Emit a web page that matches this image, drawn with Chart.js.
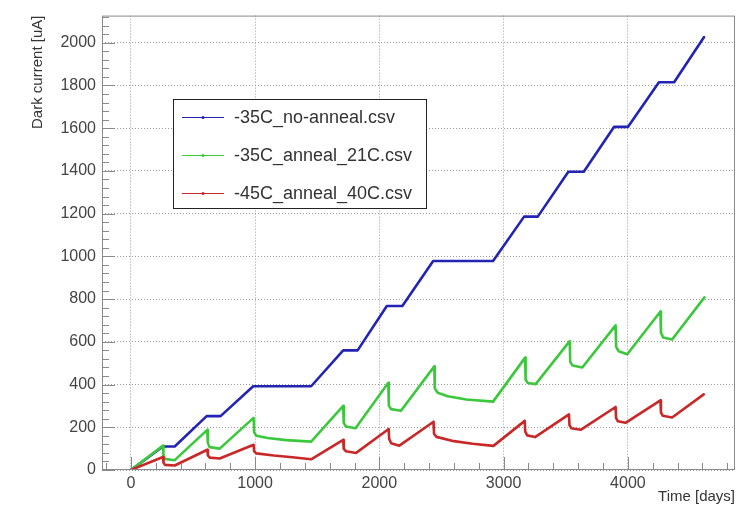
<!DOCTYPE html>
<html>
<head>
<meta charset="utf-8">
<script src="https://cdn.jsdelivr.net/npm/chart.js@4.4.1/dist/chart.umd.min.js"></script>
<style>
html, body { margin: 0; padding: 0; background: #fff; }
</style>
</head>
<body>
<canvas id="chart" width="752" height="510"></canvas>
<script>
// -35C, no annealing
const noAnnealDays    = [0, 259, 353, 610, 722, 985, 1451, 1709, 1825, 2060, 2185, 2433, 2915, 3165, 3275, 3521, 3645, 3888, 4000, 4250, 4372, 4612];
const noAnnealCurrent = [0, 110, 110, 252, 252, 392,  392,  560,  560,  768,  768,  978,  978, 1186, 1186, 1396, 1396, 1606, 1606, 1815, 1815, 2026];

// -35C, annealed at 21C
const anneal21Days    = [0, 259, 262, 275, 353, 615, 619, 633, 715, 988, 992, 1010, 1100, 1250, 1451, 1709, 1713, 1730, 1808, 2072, 2076, 2094, 2174, 2442, 2446, 2470, 2550, 2700, 2915, 3173, 3177, 3195, 3258, 3532, 3536, 3555, 3633, 3901, 3905, 3925, 3995, 4262, 4266, 4285, 4356, 4616];
const anneal21Current = [0, 114,  70,  52,  46, 188, 128, 107, 100, 244, 178,  160,  150,  140,  133,  300,  222,  204,  195,  408,  302,  285,  277,  485,  382,  362,  345,  330,  320,  526,  422,  407,  402,  603,  506,  489,  480,  677,  577,  556,  542,  742,  642,  620,  611,  808];

// -45C, annealed at 40C
const anneal40Days    = [0, 259, 263, 275, 353, 616, 620, 635, 715, 988, 992, 1010, 1150, 1300, 1451, 1709, 1713, 1730, 1813, 2075, 2079, 2095, 2161, 2436, 2440, 2460, 2600, 2750, 2918, 3170, 3174, 3190, 3253, 3526, 3530, 3545, 3620, 3901, 3905, 3920, 3981, 4262, 4266, 4280, 4356, 4610];
const anneal40Current = [0,  61,  34,  24,  21,  95,  68,  58,  54, 118,  88,   78,   68,   60,   50,  141,  100,   88,   80,  192,  145,  125,  114,  226,  170,  155,  135,  123,  113,  230,  180,  162,  154,  260,  210,  195,  188,  295,  243,  228,  221,  326,  270,  254,  246,  354];

const seriesNames  = ['-35C_no-anneal.csv', '-35C_anneal_21C.csv', '-45C_anneal_40C.csv'];
const seriesColors = ['#2323b4', '#3cc83c', '#c82828'];

const xTickValues = [0, 1000, 2000, 3000, 4000];
const yTickValues = [0, 200, 400, 600, 800, 1000, 1200, 1400, 1600, 1800, 2000];

const xRange = [-232, 4862];
const yRange = [0, 2127];
const xMajorStep = 1000, xMinorStep = 200;
const yMajorStep = 200,  yMinorStep = 40;

const FONT = '"Liberation Sans", Arial, Helvetica, sans-serif';

function toPoints(days, vals) {
    return days.map((d, i) => ({ x: d, y: vals[i] }));
}

// ROOT style frame with ticks drawn inside
const frameTicks = {
    id: 'frameTicks',
    afterDatasetsDraw(chart) {
        const { ctx, chartArea: a, scales: { x, y } } = chart;
        ctx.save();
        ctx.strokeStyle = '#8a8a8a';
        ctx.lineWidth = 1;
        ctx.strokeRect(a.left + 0.5, a.top + 0.5, a.width - 1, a.height - 1);
        ctx.beginPath();
        for (let v = -xMinorStep; v <= x.max; v += xMinorStep) {
            if (v < x.min) continue;
            const px = Math.round(x.getPixelForValue(v)) + 0.5;
            const len = v % xMajorStep === 0 ? 13 : 7;
            ctx.moveTo(px, a.bottom);
            ctx.lineTo(px, a.bottom - len);
        }
        for (let v = 0; v <= y.max; v += yMinorStep) {
            const py = Math.round(y.getPixelForValue(v)) + 0.5;
            const len = v % yMajorStep === 0 ? 13 : 7;
            ctx.moveTo(a.left, py);
            ctx.lineTo(a.left + len, py);
        }
        ctx.stroke();
        ctx.restore();
    }
};

// legend box inside the plot, like TLegend
const boxLegend = {
    id: 'boxLegend',
    afterDraw(chart) {
        const ctx = chart.ctx;
        const left = 173, top = 99, right = 426, bottom = 208;
        ctx.save();
        ctx.fillStyle = '#fff';
        ctx.fillRect(left, top, right - left, bottom - top);
        ctx.strokeStyle = '#222';
        ctx.lineWidth = 1;
        ctx.strokeRect(left + 0.5, top + 0.5, right - left, bottom - top);
        ctx.font = '18px ' + FONT;
        ctx.textBaseline = 'middle';
        chart.data.datasets.forEach((ds, i) => {
            const cy = 117 + i * 38;
            ctx.strokeStyle = ds.borderColor;
            ctx.lineWidth = 1;
            ctx.beginPath();
            ctx.moveTo(182, cy + 0.5);
            ctx.lineTo(224, cy + 0.5);
            ctx.stroke();
            ctx.fillStyle = ds.borderColor;
            ctx.beginPath();
            ctx.arc(203, cy + 0.5, 1.6, 0, Math.PI * 2);
            ctx.fill();
            ctx.fillStyle = '#333';
            ctx.fillText(ds.label, 234, cy + 1);
        });
        ctx.restore();
    }
};

const canvas = document.getElementById('chart');
new Chart(canvas, {
    type: 'line',
    data: {
        datasets: [
            { label: seriesNames[0], data: toPoints(noAnnealDays, noAnnealCurrent), borderColor: seriesColors[0], order: 3 },
            { label: seriesNames[1], data: toPoints(anneal21Days, anneal21Current), borderColor: seriesColors[1], order: 2 },
            { label: seriesNames[2], data: toPoints(anneal40Days, anneal40Current), borderColor: seriesColors[2], order: 1 }
        ]
    },
    options: {
        responsive: false,
        animation: false,
        events: [],
        layout: { padding: { left: 0, right: 17, top: 10, bottom: 0 } },
        elements: {
            line: { borderWidth: 2.6, tension: 0, borderJoinStyle: 'round', borderCapStyle: 'round', fill: false },
            point: { radius: 0 }
        },
        plugins: {
            legend: { display: false },
            tooltip: { enabled: false }
        },
        scales: {
            x: {
                type: 'linear',
                min: xRange[0],
                max: xRange[1],
                afterBuildTicks(s) { s.ticks = xTickValues.map(v => ({ value: v })); },
                afterFit(s) { s.height = 40; },
                border: { display: false, dash: [1, 2] },
                grid: { color: '#9a9a9a', lineWidth: 1, drawTicks: false },
                ticks: {
                    padding: 4,
                    color: '#444',
                    font: { family: FONT, size: 16 },
                    maxRotation: 0,
                    autoSkip: false,
                    callback: v => String(v)
                },
                title: {
                    display: true,
                    text: 'Time [days]',
                    align: 'end',
                    color: '#333',
                    font: { family: FONT, size: 15 },
                    padding: { top: 0, bottom: 4 }
                }
            },
            y: {
                type: 'linear',
                min: yRange[0],
                max: yRange[1],
                afterBuildTicks(s) { s.ticks = yTickValues.map(v => ({ value: v })); },
                afterFit(s) { s.width = 102; },
                border: { display: false, dash: [1, 2] },
                grid: { color: '#9a9a9a', lineWidth: 1, drawTicks: false },
                ticks: {
                    padding: 6,
                    color: '#444',
                    font: { family: FONT, size: 16 },
                    autoSkip: false,
                    callback: v => String(v)
                },
                title: {
                    display: true,
                    text: 'Dark current [uA]',
                    align: 'end',
                    color: '#333',
                    font: { family: FONT, size: 15 },
                    padding: { top: 29, bottom: 0 }
                }
            }
        }
    },
    plugins: [frameTicks, boxLegend]
});
</script>
</body>
</html>
